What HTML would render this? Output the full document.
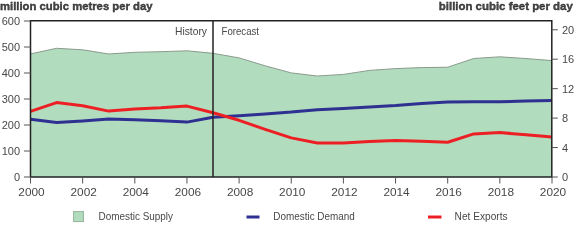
<!DOCTYPE html>
<html><head><meta charset="utf-8"><style>
html,body{margin:0;padding:0;background:#fff;width:580px;height:230px;overflow:hidden}
svg{display:block;will-change:transform}
text{font-family:"Liberation Sans", sans-serif;font-size:11px;fill:#484848}
</style></head><body>
<svg width="580" height="230" viewBox="0 0 580 230">
<path d="M30.5,177.0 L30.50,53.90 56.58,48.30 82.65,49.80 108.72,54.00 134.80,52.30 160.88,51.70 186.95,50.80 213.03,53.30 239.10,57.90 265.17,65.80 291.25,72.90 317.32,76.00 343.40,74.40 369.47,70.40 395.55,68.60 421.62,67.60 447.70,67.20 473.77,58.50 499.85,56.80 525.92,58.50 552.00,60.60 L552.00,177.0 Z" fill="#b2dcbe" stroke="none"/>
<polyline points="30.50,53.90 56.58,48.30 82.65,49.80 108.72,54.00 134.80,52.30 160.88,51.70 186.95,50.80 213.03,53.30 239.10,57.90 265.17,65.80 291.25,72.90 317.32,76.00 343.40,74.40 369.47,70.40 395.55,68.60 421.62,67.60 447.70,67.20 473.77,58.50 499.85,56.80 525.92,58.50 552.00,60.60" fill="none" stroke="#8a9a8d" stroke-width="1"/>
<polyline points="30.50,119.30 56.58,122.60 82.65,120.90 108.72,118.90 134.80,119.70 160.88,120.80 186.95,122.10 213.03,117.20 239.10,115.70 265.17,113.90 291.25,112.10 317.32,109.70 343.40,108.40 369.47,106.90 395.55,105.50 421.62,103.50 447.70,102.00 473.77,101.80 499.85,101.80 525.92,101.10 552.00,100.50" fill="none" stroke="#2e3192" stroke-width="3" stroke-linejoin="round"/>
<polyline points="30.50,111.30 56.58,102.60 82.65,105.70 108.72,111.10 134.80,108.90 160.88,107.80 186.95,106.10 213.03,112.80 239.10,120.30 265.17,129.30 291.25,137.90 317.32,143.00 343.40,143.00 369.47,141.40 395.55,140.60 421.62,141.20 447.70,142.20 473.77,133.90 499.85,132.60 525.92,134.80 552.00,137.00" fill="none" stroke="#ec2024" stroke-width="3" stroke-linejoin="round"/>
<line x1="213" y1="21" x2="213" y2="177" stroke="#222" stroke-width="1.5"/>
<path d="M30.5,177 L30.5,20.8 L551.8,20.8 L551.8,177 Z" fill="none" stroke="#222" stroke-width="1.5"/>
<line x1="24" y1="21" x2="30.5" y2="21" stroke="#555" stroke-width="1"/>
<text x="20" y="24.9" text-anchor="end">600</text>
<line x1="24" y1="47" x2="30.5" y2="47" stroke="#555" stroke-width="1"/>
<text x="20" y="50.9" text-anchor="end">500</text>
<line x1="24" y1="73" x2="30.5" y2="73" stroke="#555" stroke-width="1"/>
<text x="20" y="76.9" text-anchor="end">400</text>
<line x1="24" y1="99" x2="30.5" y2="99" stroke="#555" stroke-width="1"/>
<text x="20" y="102.9" text-anchor="end">300</text>
<line x1="24" y1="125" x2="30.5" y2="125" stroke="#555" stroke-width="1"/>
<text x="20" y="128.9" text-anchor="end">200</text>
<line x1="24" y1="151" x2="30.5" y2="151" stroke="#555" stroke-width="1"/>
<text x="20" y="154.9" text-anchor="end">100</text>
<line x1="24" y1="177" x2="30.5" y2="177" stroke="#555" stroke-width="1"/>
<text x="20" y="180.9" text-anchor="end">0</text>
<line x1="551.8" y1="177.00" x2="557.8" y2="177.00" stroke="#555" stroke-width="1"/>
<text x="562" y="180.9">0</text>
<line x1="551.8" y1="147.55" x2="557.8" y2="147.55" stroke="#555" stroke-width="1"/>
<text x="562" y="151.5">4</text>
<line x1="551.8" y1="118.10" x2="557.8" y2="118.10" stroke="#555" stroke-width="1"/>
<text x="562" y="122.0">8</text>
<line x1="551.8" y1="88.65" x2="557.8" y2="88.65" stroke="#555" stroke-width="1"/>
<text x="562" y="92.6">12</text>
<line x1="551.8" y1="59.20" x2="557.8" y2="59.20" stroke="#555" stroke-width="1"/>
<text x="562" y="63.1">16</text>
<line x1="551.8" y1="29.75" x2="557.8" y2="29.75" stroke="#555" stroke-width="1"/>
<text x="562" y="33.7">20</text>
<line x1="30.50" y1="177" x2="30.50" y2="183.5" stroke="#555" stroke-width="1"/>
<text x="31.50" y="196" text-anchor="middle" textLength="26.3" lengthAdjust="spacingAndGlyphs">2000</text>
<line x1="82.65" y1="177" x2="82.65" y2="183.5" stroke="#555" stroke-width="1"/>
<text x="83.65" y="196" text-anchor="middle" textLength="26.3" lengthAdjust="spacingAndGlyphs">2002</text>
<line x1="134.80" y1="177" x2="134.80" y2="183.5" stroke="#555" stroke-width="1"/>
<text x="135.80" y="196" text-anchor="middle" textLength="26.3" lengthAdjust="spacingAndGlyphs">2004</text>
<line x1="186.95" y1="177" x2="186.95" y2="183.5" stroke="#555" stroke-width="1"/>
<text x="187.95" y="196" text-anchor="middle" textLength="26.3" lengthAdjust="spacingAndGlyphs">2006</text>
<line x1="239.10" y1="177" x2="239.10" y2="183.5" stroke="#555" stroke-width="1"/>
<text x="240.10" y="196" text-anchor="middle" textLength="26.3" lengthAdjust="spacingAndGlyphs">2008</text>
<line x1="291.25" y1="177" x2="291.25" y2="183.5" stroke="#555" stroke-width="1"/>
<text x="292.25" y="196" text-anchor="middle" textLength="26.3" lengthAdjust="spacingAndGlyphs">2010</text>
<line x1="343.40" y1="177" x2="343.40" y2="183.5" stroke="#555" stroke-width="1"/>
<text x="344.40" y="196" text-anchor="middle" textLength="26.3" lengthAdjust="spacingAndGlyphs">2012</text>
<line x1="395.55" y1="177" x2="395.55" y2="183.5" stroke="#555" stroke-width="1"/>
<text x="396.55" y="196" text-anchor="middle" textLength="26.3" lengthAdjust="spacingAndGlyphs">2014</text>
<line x1="447.70" y1="177" x2="447.70" y2="183.5" stroke="#555" stroke-width="1"/>
<text x="448.70" y="196" text-anchor="middle" textLength="26.3" lengthAdjust="spacingAndGlyphs">2016</text>
<line x1="499.85" y1="177" x2="499.85" y2="183.5" stroke="#555" stroke-width="1"/>
<text x="500.85" y="196" text-anchor="middle" textLength="26.3" lengthAdjust="spacingAndGlyphs">2018</text>
<line x1="552.00" y1="177" x2="552.00" y2="183.5" stroke="#555" stroke-width="1"/>
<text x="553.00" y="196" text-anchor="middle" textLength="26.3" lengthAdjust="spacingAndGlyphs">2020</text>
<text x="0" y="9.6" font-weight="bold" fill="#221f20" stroke="#221f20" stroke-width="0.35" font-size="11" textLength="152.5" lengthAdjust="spacingAndGlyphs">million cubic metres per day</text>
<text x="572.8" y="9.6" font-weight="bold" fill="#221f20" stroke="#221f20" stroke-width="0.35" font-size="11" text-anchor="end" textLength="134" lengthAdjust="spacingAndGlyphs">billion cubic feet per day</text>
<text x="207" y="35.4" text-anchor="end" textLength="32" lengthAdjust="spacingAndGlyphs">History</text>
<text x="221.5" y="35.4" textLength="37.5" lengthAdjust="spacingAndGlyphs">Forecast</text>
<rect x="73.6" y="211.6" width="9.8" height="10" fill="#b2dcbe" stroke="#94b49c" stroke-width="1"/>
<text x="98.5" y="220.2" textLength="74.5" lengthAdjust="spacingAndGlyphs">Domestic Supply</text>
<line x1="246.5" y1="217" x2="259.5" y2="217" stroke="#2e3192" stroke-width="3"/>
<text x="273.3" y="220.2" textLength="81.5" lengthAdjust="spacingAndGlyphs">Domestic Demand</text>
<line x1="428" y1="217" x2="441.5" y2="217" stroke="#ec2024" stroke-width="3"/>
<text x="454.6" y="220.2" textLength="53" lengthAdjust="spacingAndGlyphs">Net Exports</text>
</svg>
</body></html>
